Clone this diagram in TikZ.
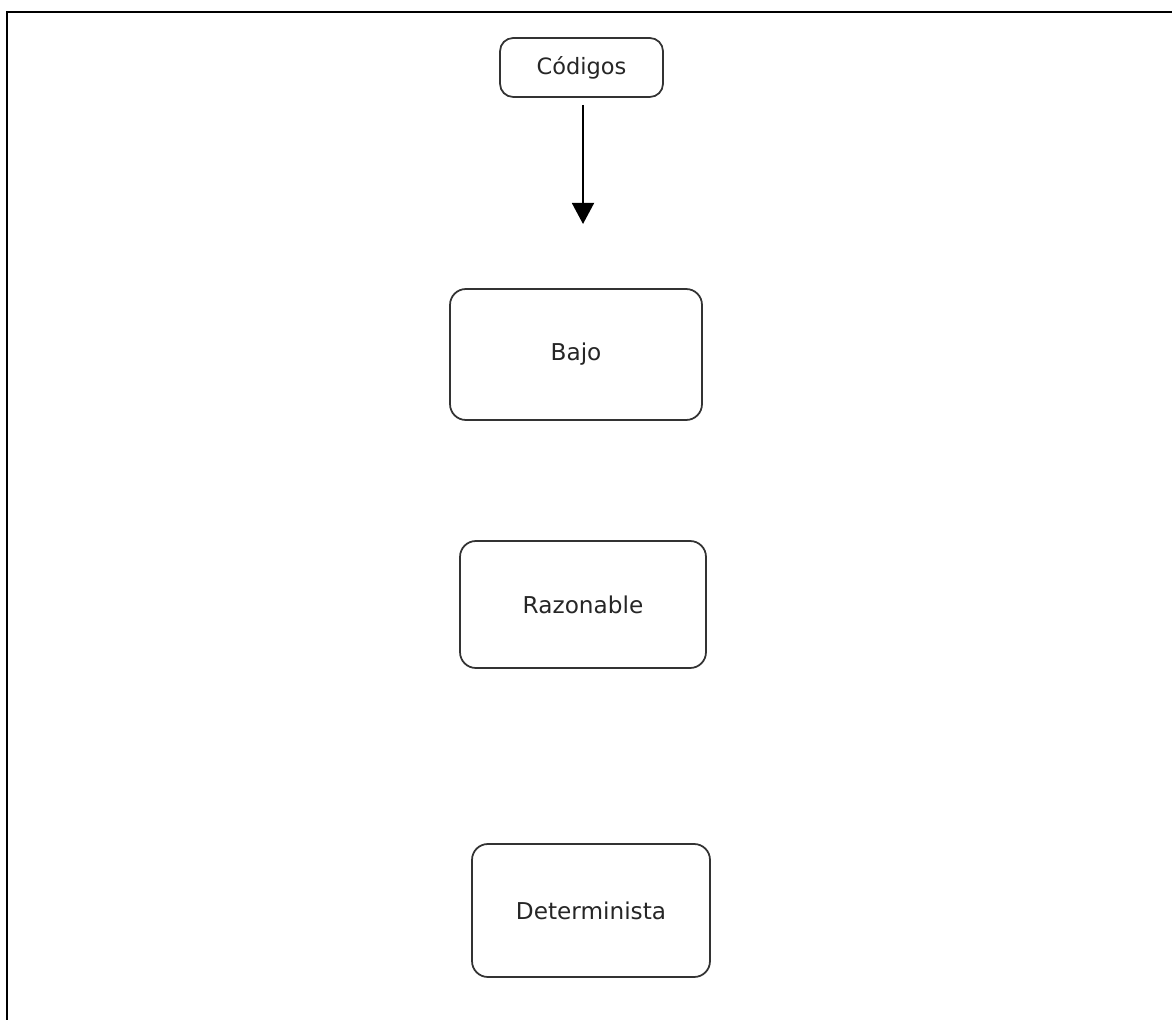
\documentclass[tikz,border=0pt]{standalone}
\usepackage{fontspec}
\setmainfont{DejaVu Sans}
\usetikzlibrary{arrows.meta}

\begin{document}
\begin{tikzpicture}[x=0.02cm, y=-0.02cm, thick, main node/.style={draw=black!80, rounded corners=9pt, line width=1pt, text=black!85, font=\fontsize{13.2}{15}\selectfont}]
\useasboundingbox (0,0) rectangle (1172,1020);
\draw[line width=1.7pt] (1172,12) -- (7,12) -- (7,1020);
\node[main node, rounded corners=7.5pt, minimum width=3.26cm, minimum height=1.18cm, font=\fontsize{12.8}{15}\selectfont] (codigos) at (581.5,67.5) {Códigos};
\foreach \n/\t/\x/\y/\w/\h in {bajo/Bajo/576/354.5/5.04/2.62, razonable/Razonable/583/604.5/4.92/2.54, determinista/Determinista/591/910.5/4.76/2.66}{
    \node[main node, minimum width=\w cm, minimum height=\h cm] (\n) at (\x,\y) {\t};}
\coordinate (tip) at (583,224);
\draw[line width=1.2pt, shorten <=4pt, -{Triangle[width=12.5pt,length=12pt]}] (codigos.south -| tip) -- (tip);
\end{tikzpicture}
\end{document}
